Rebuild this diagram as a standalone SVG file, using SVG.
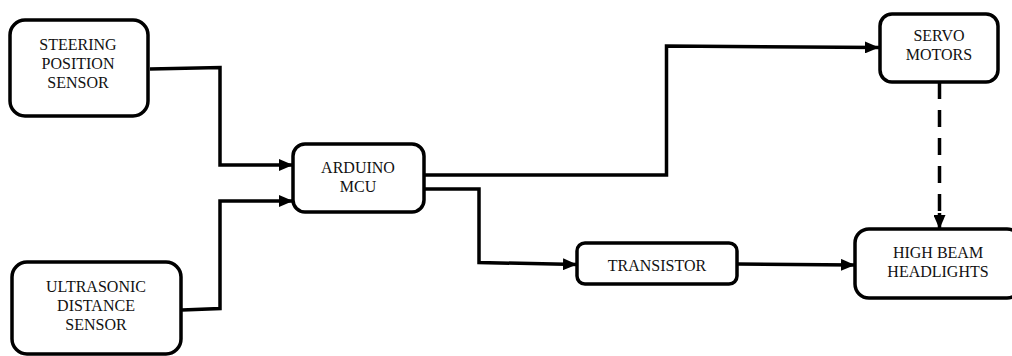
<svg xmlns="http://www.w3.org/2000/svg" width="1012" height="356" viewBox="0 0 1012 356">
  <style>
    .box { fill: #fff; stroke: #000; stroke-width: 3.5; }
    .lbl { font-family: 'Liberation Serif', 'Times New Roman', Times, 'DejaVu Serif', serif; font-size: 16px; fill: #111; text-anchor: middle; }
    .wire { fill: none; stroke: #000; stroke-width: 3.5; stroke-linejoin: miter; }
    .dash { stroke-dasharray: 17 11; }
  </style>
  <defs>
    <marker id="arrow" viewBox="0 0 14 12" refX="14" refY="6" markerWidth="14" markerHeight="12" markerUnits="userSpaceOnUse" orient="auto">
      <path d="M0,0 L14,6 L0,12 Z" fill="#000"/>
    </marker>
  </defs>

  <rect width="1012" height="356" fill="#fff"/>

  <!-- connectors -->
  <g id="connectors">
    <path class="wire" d="M150,69 L220,67.5 L220,165 L293,165" marker-end="url(#arrow)"/>
    <path class="wire" d="M182,310 L220,308.5 L220,201 L293,201" marker-end="url(#arrow)"/>
    <path class="wire" d="M424,175 L666.5,175 L666.5,46 L879,47.5" marker-end="url(#arrow)"/>
    <path class="wire" d="M424,189 L479,189 L479,262.5 L577,264.5" marker-end="url(#arrow)"/>
    <path class="wire" d="M737,264 L855,265" marker-end="url(#arrow)"/>
    <path class="wire dash" d="M939.5,82 L939.5,213"/>
    <path class="wire" d="M939.5,213 L939.5,229" marker-end="url(#arrow)"/>
  </g>

  <!-- nodes -->
  <g id="steering">
    <rect class="box" x="10" y="20" width="138" height="96" rx="15"/>
    <text class="lbl" font-family="Liberation Serif, serif" x="78" y="50">STEERING</text>
    <text class="lbl" font-family="Liberation Serif, serif" x="78" y="69">POSITION</text>
    <text class="lbl" font-family="Liberation Serif, serif" x="78" y="88">SENSOR</text>
  </g>

  <g id="ultrasonic">
    <rect class="box" x="12" y="262" width="169" height="92" rx="15"/>
    <text class="lbl" font-family="Liberation Serif, serif" x="96" y="292">ULTRASONIC</text>
    <text class="lbl" font-family="Liberation Serif, serif" x="96" y="311">DISTANCE</text>
    <text class="lbl" font-family="Liberation Serif, serif" x="96" y="330">SENSOR</text>
  </g>

  <g id="arduino">
    <rect class="box" x="293" y="144" width="131" height="68" rx="12"/>
    <text class="lbl" font-family="Liberation Serif, serif" x="358" y="173">ARDUINO</text>
    <text class="lbl" font-family="Liberation Serif, serif" x="358" y="192">MCU</text>
  </g>

  <g id="servo">
    <rect class="box" x="880" y="14" width="118" height="68" rx="12"/>
    <text class="lbl" font-family="Liberation Serif, serif" x="939" y="41">SERVO</text>
    <text class="lbl" font-family="Liberation Serif, serif" x="939" y="60">MOTORS</text>
  </g>

  <g id="transistor">
    <rect class="box" x="577" y="243" width="160" height="41" rx="8"/>
    <text class="lbl" font-family="Liberation Serif, serif" x="657" y="271">TRANSISTOR</text>
  </g>

  <g id="headlights">
    <rect class="box" x="855" y="229" width="166" height="69" rx="14"/>
    <text class="lbl" font-family="Liberation Serif, serif" x="938" y="258">HIGH BEAM</text>
    <text class="lbl" font-family="Liberation Serif, serif" x="938" y="277">HEADLIGHTS</text>
  </g>
</svg>
